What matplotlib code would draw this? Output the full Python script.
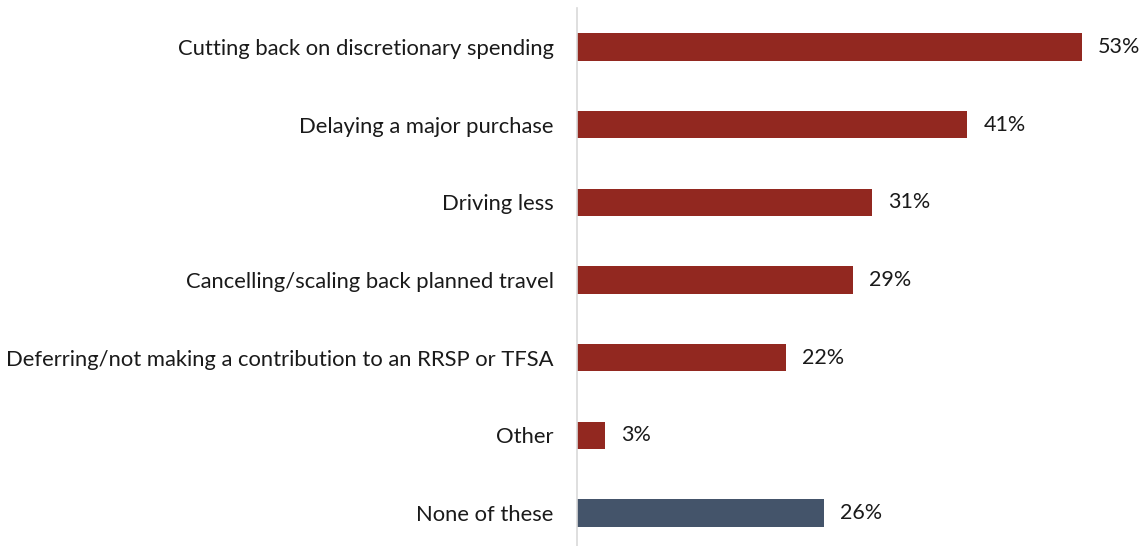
import matplotlib.pyplot as plt

# Survey responses: actions taken
categories = [
    "Cutting back on discretionary spending",
    "Delaying a major purchase",
    "Driving less",
    "Cancelling/scaling back planned travel",
    "Deferring/not making a contribution to an RRSP or TFSA",
    "Other",
    "None of these",
]
values = [53, 41, 31, 29, 22, 3, 26]
colors = ["#922820"] * 6 + ["#44546A"]

W, H = 1145, 546
fig = plt.figure(figsize=(W / 100, H / 100), dpi=100)

# axes placed in pixel terms: left spine at x=576, 9.53 px per percent
px_per_pct = 9.53
x_left = 576.5
x_max = 58
ax = fig.add_axes([x_left / W, -6 / H, x_max * px_per_pct / W, 544 / H])

ypos = list(range(len(categories)))
ax.barh(ypos, values, height=0.354, color=colors, edgecolor="none")
ax.set_ylim(len(categories) - 0.5, -0.5)
ax.set_xlim(0, x_max)

for y, v in zip(ypos, values):
    ax.text(v + 1.7, y, f"{v}%", va="center", ha="left",
            fontsize=15.5, family="Lato", color="#1a1a1a")

ax.set_yticks(ypos)
ax.set_yticklabels(categories, fontsize=15.8, family="Lato", color="#1a1a1a")
ax.tick_params(axis="y", length=0, pad=16.5)
ax.set_xticks([])

for side in ["top", "right", "bottom"]:
    ax.spines[side].set_visible(False)
ax.spines["left"].set_color("#d9d9d9")
ax.spines["left"].set_linewidth(1.2)

fig.savefig("out.png", dpi=100)
